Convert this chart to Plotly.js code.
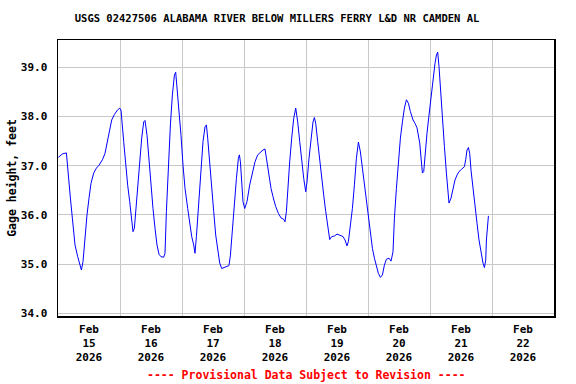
<!DOCTYPE html>
<html>
<head>
<meta charset="utf-8">
<script src="https://cdn.plot.ly/plotly-3.0.1.min.js"></script>
<style>html,body{margin:0;padding:0;background:#fff;}#chart{width:576px;height:384px;}</style>
</head>
<body>
<div id="chart"></div>
<script>
// Hours since 2026-02-15 00:00 and gage height (feet)
const hoursSinceStart = [
0.15,1.70,3.25,4.03,4.80,5.57,6.58,7.63,8.40,9.06,9.68,10.45,11.23,12.00,12.77,13.82,14.86,15.87,17.19,18.19,
18.97,19.74,20.79,21.83,22.99,23.88,24.39,25.43,26.21,26.98,27.76,28.53,29.03,29.57,30.08,30.86,31.63,32.40,33.18,33.68,
34.46,35.23,36.00,36.77,37.55,38.32,39.10,39.87,40.92,41.42,41.96,42.74,43.51,44.28,45.06,45.56,46.07,46.84,47.61,48.39,
49.16,50.21,50.98,51.76,52.53,53.03,53.58,54.35,55.12,55.50,56.13,56.91,57.45,57.95,58.73,59.50,60.27,61.05,61.82,62.60,
63.37,64.15,65.19,66.19,66.74,67.51,68.28,69.06,69.83,70.22,70.61,71.11,71.61,72.27,73.16,74.21,75.25,76.26,77.30,78.35,
79.36,80.13,80.90,81.68,82.45,83.23,84.27,85.32,86.32,87.37,87.87,88.42,88.92,89.69,90.47,91.24,92.02,92.79,93.57,94.34,
95.12,95.89,96.39,97.16,97.94,98.71,99.25,99.76,100.53,101.31,102.08,102.86,103.63,104.41,105.18,105.96,107.00,108.00,109.32,110.33,
111.10,111.87,112.42,113.19,113.96,114.74,115.51,116.29,117.06,117.84,118.61,119.39,120.16,120.93,121.71,122.48,123.26,124.03,124.80,125.58,
126.35,127.13,128.13,128.91,129.68,130.22,131.00,131.77,132.54,133.32,134.09,134.87,135.64,136.42,137.42,138.20,138.97,140.02,140.52,141.06,
141.57,142.07,142.84,143.62,144.39,145.16,145.94,146.48,146.98,147.49,148.03,148.80,149.58,150.35,150.86,151.36,152.13,152.91,153.68,154.46,
155.23,156.28,157.32,157.82,158.33,158.87,159.37,159.87,160.65,161.42,162.20,162.97,163.75,164.52,165.06,165.57,165.84,166.34,166.62
];
const gageHeight = [
37.17,37.24,37.26,36.71,36.34,35.93,35.39,35.15,34.98,34.88,35.05,35.59,36.00,36.34,36.64,36.85,36.95,37.01,37.12,37.25,
37.46,37.69,37.93,38.04,38.13,38.17,38.13,37.49,37.01,36.60,36.27,35.93,35.66,35.73,36.07,36.54,37.08,37.56,37.89,37.92,
37.62,37.08,36.61,36.13,35.73,35.39,35.20,35.15,35.14,35.22,36.07,37.08,37.83,38.44,38.84,38.90,38.61,38.10,37.62,37.01,
36.54,36.13,35.79,35.56,35.39,35.22,35.56,36.13,36.60,36.90,37.49,37.79,37.83,37.56,37.01,36.54,36.07,35.59,35.25,35.02,
34.91,34.93,34.96,34.97,35.18,35.73,36.27,36.74,37.15,37.22,37.08,36.67,36.27,36.13,36.27,36.61,36.88,37.08,37.22,37.28,
37.32,37.34,37.08,36.74,36.54,36.37,36.17,36.03,35.94,35.91,35.86,36.07,36.54,37.08,37.56,37.96,38.17,37.89,37.49,37.08,
36.74,36.47,36.67,37.15,37.56,37.89,37.98,37.86,37.49,37.08,36.74,36.40,36.07,35.73,35.50,35.56,35.57,35.61,35.59,35.56,
35.49,35.37,35.46,35.76,36.13,36.61,37.15,37.48,37.28,36.95,36.61,36.34,36.00,35.59,35.32,35.12,34.95,34.81,34.73,34.78,
34.98,35.10,35.12,35.06,35.25,35.93,36.54,37.08,37.56,37.89,38.17,38.34,38.27,38.10,37.93,37.86,37.77,37.46,37.18,36.85,
36.88,37.25,37.66,38.03,38.40,38.81,39.08,39.25,39.31,39.01,38.54,38.00,37.39,36.85,36.44,36.24,36.34,36.51,36.71,36.81,
36.88,36.93,36.98,37.12,37.32,37.37,37.25,36.91,36.51,36.17,35.83,35.49,35.22,35.02,34.93,35.08,35.49,35.90,35.98
];
const tickDays = [15,16,17,18,19,20,21,22];
const tickText = ["Feb<br>15<br>2026","Feb<br>16<br>2026","Feb<br>17<br>2026","Feb<br>18<br>2026",
                  "Feb<br>19<br>2026","Feb<br>20<br>2026","Feb<br>21<br>2026","Feb<br>22<br>2026"];
const yTickVals = [34,35,36,37,38,39];
const yTickText = ["34.0","35.0","36.0","37.0","38.0","39.0"];

const start = Date.UTC(2026,1,15);
function fmt(ms){
  const d = new Date(ms);
  const p = n => String(n).padStart(2,'0');
  return d.getUTCFullYear()+'-'+p(d.getUTCMonth()+1)+'-'+p(d.getUTCDate())+' '+p(d.getUTCHours())+':'+p(d.getUTCMinutes())+':'+p(d.getUTCSeconds());
}
const xs = hoursSinceStart.map(h => fmt(start + Math.round(h*3600)*1000));
const tickVals = tickDays.map(d => '2026-02-' + String(d).padStart(2,'0') + ' 12:00');

const mono = 'DejaVu Sans Mono, Liberation Mono, monospace';

const trace = {
  x: xs, y: gageHeight, type: 'scatter', mode: 'lines',
  line: {color: '#0000ff', width: 1}, hoverinfo: 'skip'
};

const layout = {
  width: 576, height: 384,
  margin: {l: 58, r: 22, t: 40, b: 68, pad: 0},
  paper_bgcolor: '#ffffff', plot_bgcolor: '#ffffff',
  showlegend: false,
  title: {
    text: 'USGS 02427506 ALABAMA RIVER BELOW MILLERS FERRY L&D NR CAMDEN AL',
    font: {family: mono, size: 10.5, color: '#000', weight: 'bold'},
    x: 0.481, xref: 'container', xanchor: 'center',
    y: 0.952, yref: 'container', yanchor: 'middle'
  },
  xaxis: {
    type: 'date',
    range: ['2026-02-15 00:00', '2026-02-23 00:00'],
    tickmode: 'array', tickvals: tickVals, ticktext: tickText,
    ticks: '', showgrid: false, ticklabelstandoff: 2,
    minor: {tickmode: 'linear', tick0: '2026-02-15', dtick: 86400000, showgrid: true, gridcolor: '#c8c8c8', gridwidth: 1, ticks: ''},
    tickfont: {family: mono, size: 11, color: '#000', weight: 'bold'},
    showline: true, linecolor: '#000', linewidth: 1.5, mirror: true,
    zeroline: false, fixedrange: true
  },
  yaxis: {
    range: [33.945, 39.555],
    tickmode: 'array', tickvals: yTickVals, ticktext: yTickText,
    ticks: '', showgrid: true, gridcolor: '#c8c8c8', gridwidth: 1,
    ticklabelstandoff: 7,
    tickfont: {family: mono, size: 11, color: '#000', weight: 'bold'},
    showline: true, linecolor: '#000', linewidth: 1.5, mirror: true,
    zeroline: false, fixedrange: true,
    title: {text: 'Gage height, feet', font: {family: mono, size: 11.5, color: '#000', weight: 'bold'}, standoff: 2}
  },
  annotations: [{
    text: '---- Provisional Data Subject to Revision ----',
    xref: 'paper', yref: 'paper', x: 0.5, y: -0.2138,
    xanchor: 'center', yanchor: 'middle', showarrow: false,
    font: {family: mono, size: 11.5, color: '#ff0000', weight: 'bold'}
  }]
};

Plotly.newPlot('chart', [trace], layout, {staticPlot: true, displayModeBar: false});
</script>
</body>
</html>
